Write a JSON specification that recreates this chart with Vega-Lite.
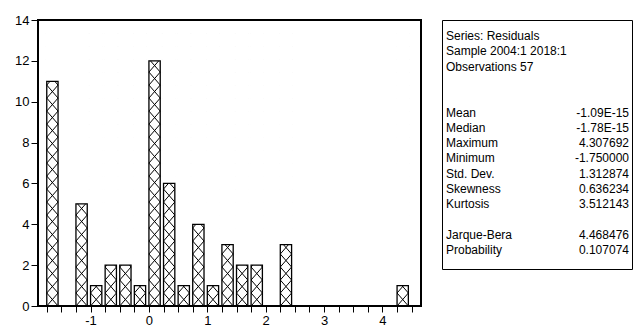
{
  "$schema": "https://vega.github.io/schema/vega-lite/v6.json",
  "background": "white",
  "padding": {"left": 13, "top": 13, "right": 0, "bottom": 0},
  "config": {
    "font": "Liberation Sans",
    "axis": {"labelFont": "Liberation Sans", "labelFontSize": 13, "labelColor": "black", "tickColor": "black", "tickWidth": 1, "domain": false, "grid": false, "title": null, "tickSize": 7, "labelPadding": 2}
  },
  "datasets": {
    "bins": [
      {"bin_start": -1.75, "bin_end": -1.5, "count": 11},
      {"bin_start": -1.25, "bin_end": -1.0, "count": 5},
      {"bin_start": -1.0, "bin_end": -0.75, "count": 1},
      {"bin_start": -0.75, "bin_end": -0.5, "count": 2},
      {"bin_start": -0.5, "bin_end": -0.25, "count": 2},
      {"bin_start": -0.25, "bin_end": 0.0, "count": 1},
      {"bin_start": 0.0, "bin_end": 0.25, "count": 12},
      {"bin_start": 0.25, "bin_end": 0.5, "count": 6},
      {"bin_start": 0.5, "bin_end": 0.75, "count": 1},
      {"bin_start": 0.75, "bin_end": 1.0, "count": 4},
      {"bin_start": 1.0, "bin_end": 1.25, "count": 1},
      {"bin_start": 1.25, "bin_end": 1.5, "count": 3},
      {"bin_start": 1.5, "bin_end": 1.75, "count": 2},
      {"bin_start": 1.75, "bin_end": 2.0, "count": 2},
      {"bin_start": 2.25, "bin_end": 2.5, "count": 3},
      {"bin_start": 4.25, "bin_end": 4.5, "count": 1}
    ],
    "stats": [
      {"line": 0, "label": "Series: Residuals", "value": ""},
      {"line": 1, "label": "Sample 2004:1 2018:1", "value": ""},
      {"line": 2, "label": "Observations 57", "value": ""},
      {"line": 5, "label": "Mean", "value": "-1.09E-15"},
      {"line": 6, "label": "Median", "value": "-1.78E-15"},
      {"line": 7, "label": "Maximum", "value": "4.307692"},
      {"line": 8, "label": "Minimum", "value": "-1.750000"},
      {"line": 9, "label": "Std. Dev.", "value": "1.312874"},
      {"line": 10, "label": "Skewness", "value": "0.636234"},
      {"line": 11, "label": "Kurtosis", "value": "3.512143"},
      {"line": 13, "label": "Jarque-Bera", "value": "4.468476"},
      {"line": 14, "label": "Probability", "value": "0.107074"}
    ]
  },
  "spacing": 19,
  "hconcat": [
    {
      "width": 383,
      "height": 286,
      "view": {"stroke": "black", "strokeWidth": 2},
      "data": {"name": "bins"},
      "encoding": {
        "x": {
          "field": "bin_start",
          "type": "quantitative",
          "scale": {"domain": [-1.9, 4.66], "nice": false, "zero": false},
          "axis": {
            "values": [-1.75, -1.5, -1.25, -1.0, -0.75, -0.5, -0.25, 0, 0.25, 0.5, 0.75, 1.0, 1.25, 1.5, 1.75, 2.0, 2.25, 2.5, 2.75, 3.0, 3.25, 3.5, 3.75, 4.0, 4.25, 4.5],
            "labelExpr": "datum.value % 1 === 0 ? '' + datum.value : ''",
            "labelOverlap": false,
            "labelFlush": false,
            "tickSize": 6
          }
        }
      },
      "layer": [
        {
          "mark": {
            "type": "point",
            "shape": "M-1,0L1,-2.3L-1,-4.6L1,-6.9L-1,-9.2L1,-11.5L-1,-13.8L1,-16.1L-1,-18.4L1,-20.7L-1,-23L1,-25.3L-1,-27.6L1,-29.9L-1,-32.2L1,-34.5L-1,-36.8L1,-39.1L-1,-41.4L1,-43.7L-1,-46L1,-48.3L-1,-50.6L1,-52.9L-1,-55.2L1,-57.5M1,0L-1,-2.3L1,-4.6L-1,-6.9L1,-9.2L-1,-11.5L1,-13.8L-1,-16.1L1,-18.4L-1,-20.7L1,-23L-1,-25.3L1,-27.6L-1,-29.9L1,-32.2L-1,-34.5L1,-36.8L-1,-39.1L1,-41.4L-1,-43.7L1,-46L-1,-48.3L1,-50.6L-1,-52.9L1,-55.2L-1,-57.5",
            "size": 127.7,
            "filled": false,
            "stroke": "black",
            "strokeWidth": 1,
            "opacity": 1,
            "xOffset": 5.65,
            "clip": true
          },
          "encoding": {
            "y": {"datum": 0, "type": "quantitative"}
          }
        },
        {
          "mark": {"type": "bar", "fill": "white", "stroke": null, "x2Offset": -2.3, "xOffset": -1, "clip": true},
          "encoding": {
            "x2": {"field": "bin_end"},
            "y": {"field": "count", "type": "quantitative"},
            "y2": {"datum": 13.95}
          }
        },
        {
          "mark": {"type": "bar", "fill": "white", "fillOpacity": 0, "stroke": "black", "strokeWidth": 1.3, "x2Offset": -3.3},
          "encoding": {
            "x2": {"field": "bin_end"},
            "y": {
              "field": "count",
              "type": "quantitative",
              "scale": {"domain": [0, 14], "nice": false, "zero": true},
              "axis": {"values": [0, 2, 4, 6, 8, 10, 12, 14], "labelFlush": false}
            },
            "y2": {"datum": 0}
          }
        },
        {
          "data": {"values": [{"edge": 14}]},
          "mark": {"type": "rule", "color": "black", "strokeWidth": 2},
          "encoding": {
            "y": {"field": "edge", "type": "quantitative"}
          }
        }
      ]
    },
    {
      "width": 190,
      "height": 249,
      "view": {"stroke": "black", "strokeWidth": 1},
      "data": {"name": "stats"},
      "encoding": {
        "y": {
          "field": "line",
          "type": "quantitative",
          "scale": {"domain": [-1.046, 15.229], "reverse": true, "nice": false, "zero": false},
          "axis": null
        }
      },
      "layer": [
        {
          "mark": {"type": "text", "align": "left", "baseline": "middle", "fontSize": 12, "dx": 4, "color": "black", "font": "Liberation Sans"},
          "encoding": {
            "x": {"datum": 0, "type": "quantitative", "scale": {"domain": [0, 1], "nice": false, "zero": false}, "axis": null},
            "text": {"field": "label"}
          }
        },
        {
          "mark": {"type": "text", "align": "right", "baseline": "middle", "fontSize": 12, "dx": -3, "color": "black", "font": "Liberation Sans"},
          "encoding": {
            "x": {"datum": 1, "type": "quantitative"},
            "text": {"field": "value"}
          }
        }
      ]
    }
  ]
}
